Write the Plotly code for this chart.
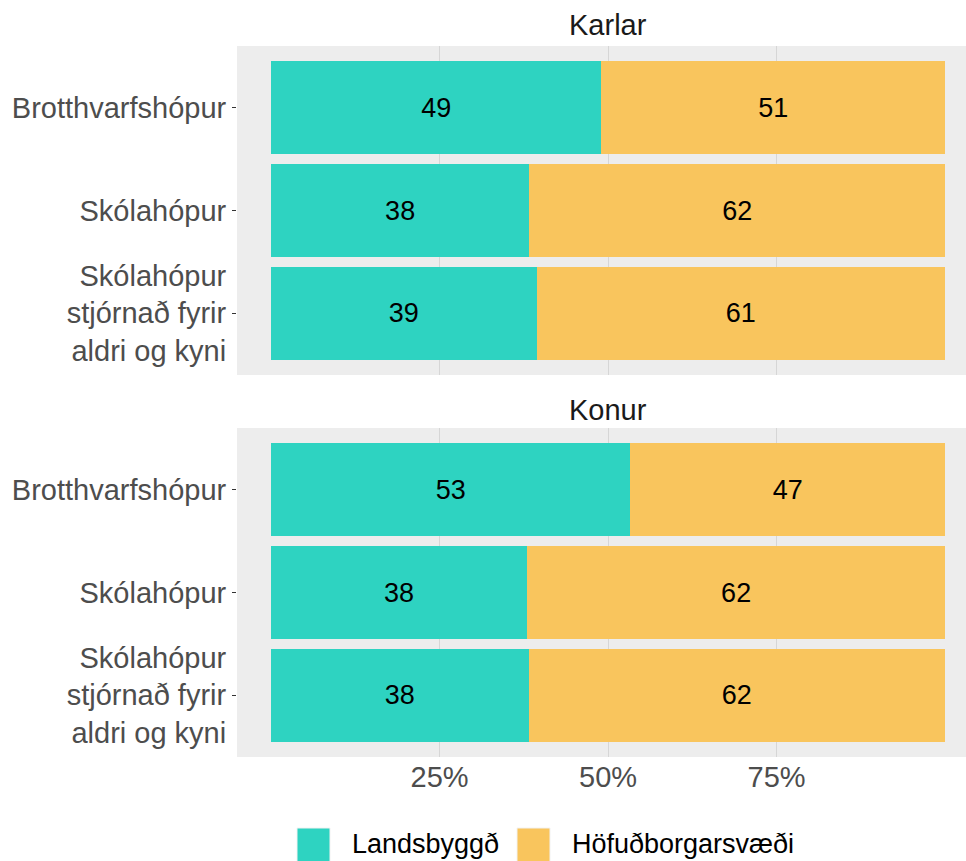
import plotly.graph_objects as go

# ---- data ----
categories = ["Brotthvarfshópur", "Skólahópur", "Skólahópur<br>stjórnað fyrir<br>aldri og kyni"]
panels = ["Karlar", "Konur"]
series_names = ["Landsbyggð", "Höfuðborgarsvæði"]
karlar_landsbyggd = [49.0, 38.3, 39.4]
karlar_hofudborg = [51.0, 61.7, 60.6]
konur_landsbyggd = [53.3, 38.0, 38.2]
konur_hofudborg = [46.7, 62.0, 61.8]
x_tick_values = [25, 50, 75]
x_tick_labels = ["25%", "50%", "75%"]

colors = ["#2ED3C1", "#F9C55D"]
W, H = 966, 861
ML, MR, MT, MB = 237, 0, 46, 104
PW, PH = W - ML - MR, H - MT - MB
FONT = "Liberation Sans, Arial, sans-serif"


def px_x(p):
    return (p - ML) / PW


def px_y(p):
    return (H - MB - p) / PH


fig = go.Figure()

panel_data = [
    (karlar_landsbyggd, karlar_hofudborg, "x", "y"),
    (konur_landsbyggd, konur_hofudborg, "x2", "y2"),
]
for land, hof, xa, ya in panel_data:
    for name, vals, col in zip(series_names, [land, hof], colors):
        fig.add_trace(go.Bar(
            y=categories, x=vals, orientation="h", name=name,
            marker=dict(color=col, line=dict(width=0)),
            width=0.9,
            text=[f"{round(v)}" for v in vals],
            textposition="inside", insidetextanchor="middle",
            textangle=0, constraintext="none",
            textfont=dict(size=27, color="#000000", family=FONT),
            showlegend=False, xaxis=xa, yaxis=ya,
            hoverinfo="skip",
        ))

top_dom = [px_y(375), 1.0]
bot_dom = [0.0, px_y(428)]
xr = [-5.05, 103.1]
grid = "#D6D6D6"
tickfont = dict(size=29, color="#4D4D4D", family=FONT)

fig.update_layout(
    width=W, height=H, barmode="stack",
    margin=dict(l=ML, r=MR, t=MT, b=MB, pad=0),
    paper_bgcolor="white", plot_bgcolor="#EDEDED",
    font=dict(family=FONT),
    xaxis=dict(domain=[0, 1], anchor="y", range=xr, tickvals=x_tick_values,
               showticklabels=False, ticks="", showgrid=True, gridcolor=grid,
               gridwidth=1, zeroline=False, showline=False),
    xaxis2=dict(domain=[0, 1], anchor="y2", range=xr, tickvals=x_tick_values,
                ticktext=x_tick_labels, showticklabels=True, ticks="",
                showgrid=True, gridcolor=grid, gridwidth=1, zeroline=False,
                showline=False, tickfont=tickfont, matches="x"),
    yaxis=dict(domain=top_dom, anchor="x", type="category", categoryorder="array",
               categoryarray=categories, range=[2.6, -0.6], ticks="outside",
               ticklen=4, tickcolor="#333333", tickwidth=1, showgrid=False,
               zeroline=False, tickfont=tickfont),
    yaxis2=dict(domain=bot_dom, anchor="x2", type="category", categoryorder="array",
                categoryarray=categories, range=[2.6, -0.6], ticks="outside",
                ticklen=4, tickcolor="#333333", tickwidth=1, showgrid=False,
                zeroline=False, tickfont=tickfont),
)

strip_font = dict(size=29, color="#1A1A1A", family=FONT)
for title, ycen in zip(panels, [25, 410]):
    fig.add_annotation(text=title, x=50, xref="x", y=px_y(ycen), yref="paper",
                       showarrow=False, xanchor="center", yanchor="middle", font=strip_font)

# legend drawn below the panels
legend_font = dict(size=27, color="#000000", family=FONT)
key_left = [297, 517]
text_left = [350, 570]
for name, col, kl, tl in zip(series_names, colors, key_left, text_left):
    fig.add_shape(type="rect", xref="paper", yref="paper",
                  x0=px_x(kl), x1=px_x(kl + 33), y0=px_y(863), y1=px_y(828),
                  fillcolor=col, line=dict(color="#F2F2F2", width=1), layer="above")
    fig.add_annotation(text=name, x=px_x(tl), xref="paper", y=px_y(844), yref="paper",
                       showarrow=False, xanchor="left", yanchor="middle", font=legend_font)

fig.write_html(
    "out.html",
    config={"displayModeBar": False},
    post_script="document.body.style.margin='0';document.body.style.overflow='hidden';",
)
